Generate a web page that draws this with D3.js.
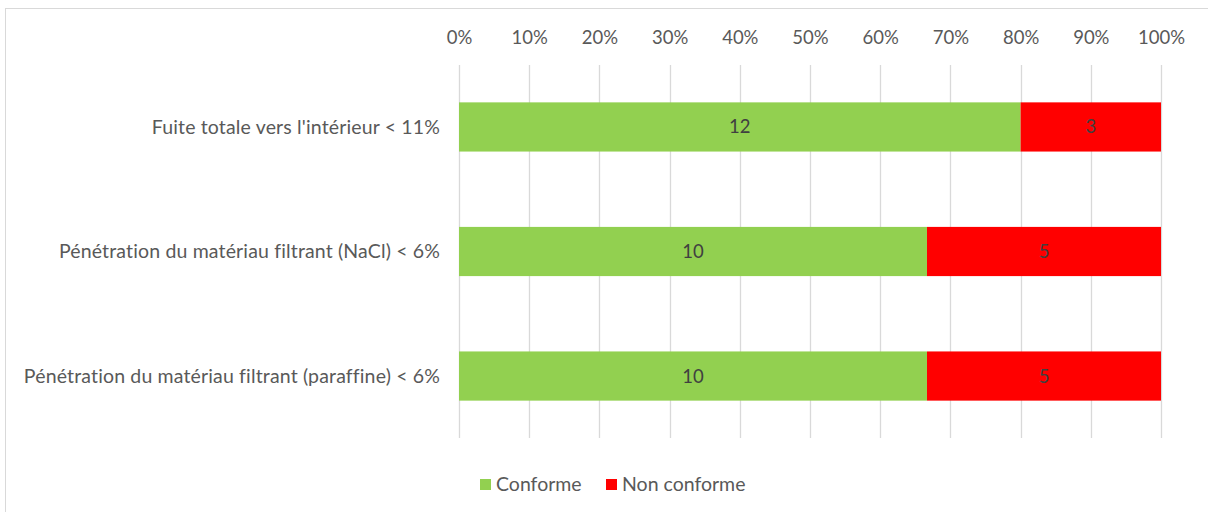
<!DOCTYPE html>
<html><head><meta charset="utf-8">
<script src="https://cdn.jsdelivr.net/npm/d3@7"></script>
<style>body{margin:0;background:#fff;}svg{display:block;}</style>
</head><body>
<svg id="c" width="1208" height="512"></svg>
<script>
const categories = ["Fuite totale vers l'intérieur < 11%", "Pénétration du matériau filtrant (NaCl) < 6%", "Pénétration du matériau filtrant (paraffine) < 6%"];
const seriesNames = ["Conforme", "Non conforme"];
const conforme = [12, 10, 10];
const nonConforme = [3, 5, 5];
const tickValues = [0, 0.1, 0.2, 0.3, 0.4, 0.5, 0.6, 0.7, 0.8, 0.9, 1.0];
const colors = ["#92D050", "#FF0000"];

const svg = d3.select("#c");
const font = "Lato, sans-serif";
const fs = 18.5;
svg.append("rect").attr("x", 5.5).attr("y", 8.5).attr("width", 1210).attr("height", 520)
  .attr("fill", "#fff").attr("stroke", "#d9d9d9").attr("stroke-width", 1);

const x = d3.scaleLinear().domain([0, 1]).range([459, 1161]);
const y = d3.scaleBand().domain(categories).range([65, 438]).paddingInner(0.605).paddingOuter(0.3);

const data = categories.map((c, i) => {
  const tot = conforme[i] + nonConforme[i];
  return {cat: c, vals: [conforme[i], nonConforme[i]], tot};
});
const stack = d3.stack().keys([0, 1]).value((d, k) => d.vals[k] / d.tot)(data);

// gridlines
svg.append("g").selectAll("line").data(tickValues).join("line")
  .attr("x1", d => Math.round(x(d)) + 0.5).attr("x2", d => Math.round(x(d)) + 0.5)
  .attr("y1", 65).attr("y2", 438).attr("stroke", "#d9d9d9").attr("stroke-width", 1.3);

// axis
const axis = d3.axisTop(x).tickValues(tickValues).tickFormat(d3.format(".0%")).tickSize(0).tickPadding(0);
const ag = svg.append("g").attr("transform", "translate(0,44)").call(axis);
ag.select(".domain").remove();
ag.selectAll("text").attr("font-family", font).attr("font-size", fs).attr("fill", "#595959");

// bars
stack.forEach((s, si) => {
  const g = svg.append("g");
  g.selectAll("rect").data(s).join("rect")
    .attr("x", d => x(d[0])).attr("width", d => x(d[1]) - x(d[0]))
    .attr("y", d => y(d.data.cat)).attr("height", y.bandwidth())
    .attr("fill", colors[si]);
  g.selectAll("text").data(s).join("text")
    .attr("x", d => (x(d[0]) + x(d[1])) / 2).attr("y", d => y(d.data.cat) + y.bandwidth() / 2)
    .attr("dy", "0.35em").attr("text-anchor", "middle")
    .attr("font-family", font).attr("font-size", fs).attr("fill", "#404040")
    .text(d => d.data.vals[si]);
});

// category labels
svg.append("g").selectAll("text").data(categories).join("text")
  .attr("x", 440).attr("y", d => y(d) + y.bandwidth() / 2).attr("dy", "0.35em")
  .attr("text-anchor", "end").attr("font-family", font).attr("font-size", 19.5).attr("letter-spacing", 0.15).attr("fill", "#595959")
  .text(d => d);

// legend
const legX = [480, 606];
const lg = svg.append("g");
seriesNames.forEach((n, i) => {
  lg.append("rect").attr("x", legX[i]).attr("y", 479).attr("width", 11).attr("height", 11).attr("fill", colors[i]);
  lg.append("text").attr("x", legX[i] + 16).attr("y", 484.5).attr("dy", "0.35em")
    .attr("font-family", font).attr("font-size", 19.5).attr("fill", "#595959").text(n);
});
</script>
</body></html>
